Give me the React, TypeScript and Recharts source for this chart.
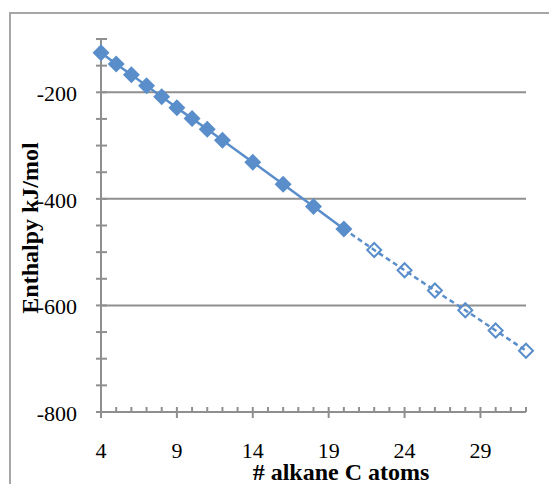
import { Line, LineChart, ReferenceLine, XAxis, YAxis, Label } from "recharts";

// alkane chain length and enthalpy (kJ/mol)
const measuredC = [4, 5, 6, 7, 8, 9, 10, 11, 12, 14, 16, 18, 20];
const measuredH = [-125.6, -146.8, -167.2, -187.8, -208.4, -229.0, -249.4, -269.5, -290.2, -331.2, -372.5, -414.2, -456.5];
const estimatedC = [20, 22, 24, 26, 28, 30, 32];
const estimatedH = [-456.5, -496, -534, -572, -609, -647, -685];

const xLabels = [4, 9, 14, 19, 24, 29];
const yLabels = [-800, -600, -400, -200];
const gridValues = [-600, -400, -200];

const BLUE = "#5A8ECB";
const AXIS = "#8F8F8F";
const FONT = "'Liberation Serif', 'Times New Roman', serif";

const xTicks: number[] = [];
for (let c = 4; c <= 32; c++) xTicks.push(c);
const yTicks: number[] = [];
for (let v = -800; v <= -100; v += 50) yTicks.push(v);

const measured = measuredC.map((c, i) => ({ c, h: measuredH[i] }));
const estimated = estimatedC.map((c, i) => ({ c, h: estimatedH[i] }));

function XTick({ x, y, payload }: any) {
  const major = xLabels.includes(payload.value);
  return (
    <g>
      <line x1={x} x2={x} y1={y - 5} y2={major ? y + 6 : y} stroke={AXIS} strokeWidth={2} />
      {major && (
        <text x={x} y={y + 46} textAnchor="middle" fontSize={22} fontFamily={FONT} fill="#000">
          {payload.value}
        </text>
      )}
    </g>
  );
}

function YTick({ x, y, payload }: any) {
  const major = yLabels.includes(payload.value);
  return (
    <g>
      <line x1={x - 5} x2={x + 6} y1={y} y2={y} stroke={AXIS} strokeWidth={2} />
      {major && (
        <text x={x - 24} y={y + 9} textAnchor="end" fontSize={22} fontFamily={FONT} fill="#000">
          {payload.value}
        </text>
      )}
    </g>
  );
}

function FilledDiamond({ cx, cy, index }: any) {
  if (cx == null || cy == null) return <g key={`f${index}`} />;
  const r = 8.5;
  return (
    <polygon key={`f${index}`} points={`${cx},${cy - r} ${cx + r},${cy} ${cx},${cy + r} ${cx - r},${cy}`} fill={BLUE} />
  );
}

function HollowDiamond({ cx, cy, index, payload }: any) {
  if (cx == null || cy == null || payload.c === 20) return <g key={`h${index}`} />;
  const r = 7;
  return (
    <polygon key={`h${index}`} points={`${cx},${cy - r} ${cx + r},${cy} ${cx},${cy + r} ${cx - r},${cy}`} fill="#fff" fillOpacity={0} stroke={BLUE} strokeWidth={2} />
  );
}

export default function App() {
  return (
    <div style={{ position: "absolute", left: 0, top: 0, width: 549, height: 484, background: "#fff", overflow: "hidden" }}>
      <div style={{ position: "absolute", left: 9, top: 12, width: 600, height: 600, borderTop: "2px solid #A6A6A6", borderLeft: "2px solid #A6A6A6" }} />
      <div style={{ position: "absolute", left: 0, top: 0 }}>
        <LineChart width={549} height={484} margin={{ top: 39, right: 23, left: 41, bottom: 32 }}>
          <XAxis
            dataKey="c"
            type="number"
            domain={[4, 32]}
            ticks={xTicks}
            interval={0}
            allowDuplicatedCategory={false}
            height={40}
            axisLine={{ stroke: AXIS, strokeWidth: 2 }}
            tickLine={false}
            tickSize={0}
            tickMargin={0}
            tick={<XTick />}
          >
            <Label
              content={() => (
                <text x={341} y={479.5} textAnchor="middle" fontSize={24} fontWeight="bold" fontFamily={FONT} fill="#000">
                  # alkane C atoms
                </text>
              )}
            />
          </XAxis>
          <YAxis
            type="number"
            domain={[-800, -100]}
            ticks={yTicks}
            interval={0}
            width={60}
            axisLine={{ stroke: AXIS, strokeWidth: 2 }}
            tickLine={false}
            tickSize={0}
            tickMargin={0}
            tick={<YTick />}
          >
            <Label
              content={() => (
                <text x={38} y={228} transform="rotate(-90, 38, 228)" textAnchor="middle" fontSize={24} fontWeight="bold" fontFamily={FONT} fill="#000">
                  Enthalpy kJ/mol
                </text>
              )}
            />
          </YAxis>
          {gridValues.map((v) => (
            <ReferenceLine key={v} y={v} stroke={AXIS} strokeWidth={2} />
          ))}
          <Line
            data={estimated}
            dataKey="h"
            stroke={BLUE}
            strokeWidth={2.5}
            strokeDasharray="5 3.5"
            dot={HollowDiamond}
            activeDot={false}
            isAnimationActive={false}
          />
          <Line
            data={measured}
            dataKey="h"
            stroke={BLUE}
            strokeWidth={2.5}
            dot={FilledDiamond}
            activeDot={false}
            isAnimationActive={false}
          />
        </LineChart>
      </div>
    </div>
  );
}
